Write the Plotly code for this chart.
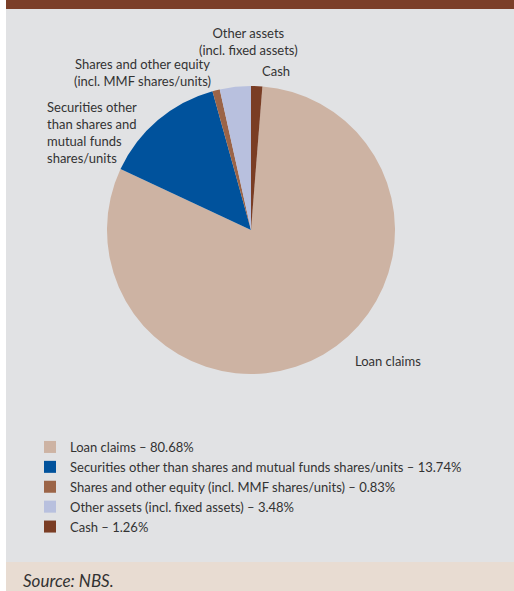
import plotly.graph_objects as go

# Asset structure – shares in total assets (%)
categories = [
    "Loan claims",
    "Securities other than shares and mutual funds shares/units",
    "Shares and other equity (incl. MMF shares/units)",
    "Other assets (incl. fixed assets)",
    "Cash",
]
shares = [80.68, 13.74, 0.83, 3.48, 1.26]
colors = ["#cdb3a3", "#00529c", "#9b6447", "#b8c0de", "#7a3d24"]

# Labels drawn next to the pie
slice_labels = [
    "Loan claims",
    "Securities other<br>than shares and<br>mutual funds<br>shares/units",
    "Shares and other equity<br>(incl. MMF shares/units)",
    "Other assets<br>(incl. fixed assets)",
    "Cash",
]

W, H = 514, 591
FONT = "Lato"
TXT = "#333333"


def px(x):
    return x / W


def py(y):
    return 1 - y / H


legend_names = [f"{c} \u2013 {v:.2f}%" for c, v in zip(categories, shares)]

fig = go.Figure()
fig.add_trace(go.Pie(
    labels=legend_names,
    values=shares,
    marker=dict(colors=colors, line=dict(width=0)),
    sort=False,
    direction="clockwise",
    rotation=shares[-1] * 3.6,
    textinfo="none",
    hoverinfo="skip",
    domain=dict(x=[px(107), px(395)], y=[py(374), py(86)]),
))

# Panel background, header strip and source band
fig.add_shape(type="rect", xref="paper", yref="paper",
              x0=px(6), x1=1, y0=py(562), y1=py(9),
              fillcolor="#e1e2e4", line_width=0, layer="below")
fig.add_shape(type="rect", xref="paper", yref="paper",
              x0=px(6), x1=1, y0=py(9), y1=1,
              fillcolor="#7b3f29", line_width=0, layer="below")
fig.add_shape(type="rect", xref="paper", yref="paper",
              x0=px(6), x1=1, y0=0, y1=py(562),
              fillcolor="#e8dcd2", line_width=0, layer="below")

label_pos = [
    (353, 361, "left", "middle", "left"),
    (45, 133, "left", "middle", "left"),
    (142, 72, "center", "middle", "center"),
    (248, 42, "center", "middle", "center"),
    (260, 71, "left", "middle", "left"),
]
for text, (x, y, xa, ya, al) in zip(slice_labels, label_pos):
    fig.add_annotation(x=px(x), y=py(y), xref="paper", yref="paper",
                       text=text, showarrow=False, xanchor=xa, yanchor=ya,
                       align=al, font=dict(family=FONT, size=13, color=TXT))

fig.add_annotation(x=px(21), y=py(580), xref="paper", yref="paper",
                   text="<i>Source: NBS.</i>", showarrow=False,
                   xanchor="left", yanchor="middle",
                   font=dict(family=FONT, size=17, color=TXT))

fig.update_layout(
    width=W, height=H,
    margin=dict(l=0, r=0, t=0, b=0),
    paper_bgcolor="white",
    plot_bgcolor="white",
    showlegend=True,
    legend=dict(
        x=px(30), y=py(432), xanchor="left", yanchor="top",
        bgcolor="rgba(0,0,0,0)",
        font=dict(family=FONT, size=13, color=TXT),
        traceorder="normal",
    ),
)

fig.write_html("out.html")
